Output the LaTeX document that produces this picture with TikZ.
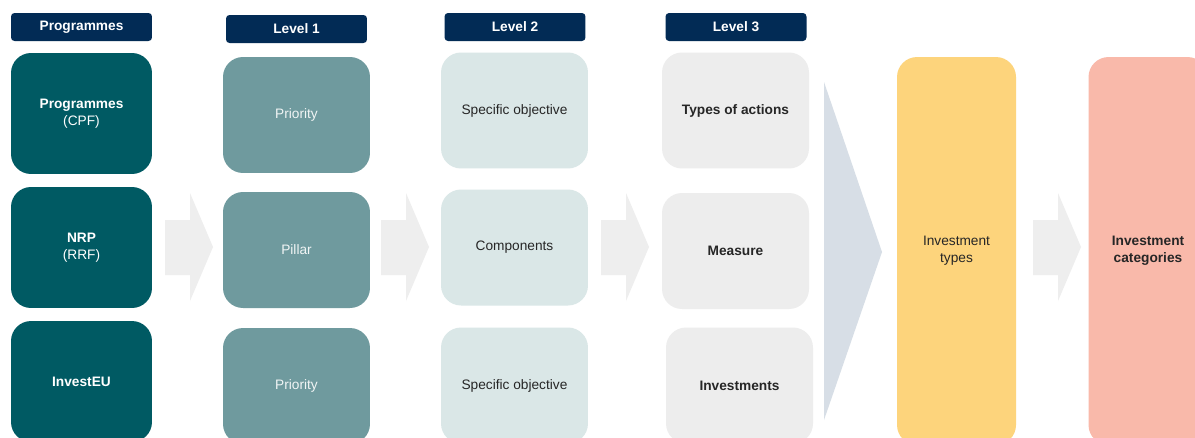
\documentclass[tikz,border=0pt]{standalone}
\usepackage{fontspec}
\setmainfont{Liberation Sans}
\definecolor{navy}{HTML}{022B55}
\definecolor{tealdark}{HTML}{005A63}
\definecolor{tealmid}{HTML}{6F9A9E}
\definecolor{teallight}{HTML}{DAE7E7}
\definecolor{greylight}{HTML}{EDEDED}
\definecolor{arrowgrey}{HTML}{EEEEEE}
\definecolor{funnel}{HTML}{D7DEE6}
\definecolor{invyellow}{HTML}{FDD47C}
\definecolor{invsalmon}{HTML}{F9B9AA}
\tikzset{
  txt/.style={font=\fontsize{7.8}{9.6}\selectfont, align=center},
  header/.style={txt, fill=navy, text=white, font=\fontsize{7.8}{9.6}\selectfont\bfseries,
    rounded corners=2pt, minimum width=2.82cm, minimum height=0.56cm},
  box/.style={txt, rounded corners=0.4cm, minimum width=2.94cm, minimum height=2.32cm},
  progbox/.style={box, fill=tealdark, text=white, minimum width=2.82cm, minimum height=2.42cm},
  pillarbox/.style={box, fill=tealmid, text=white!90!tealmid},
  objbox/.style={box, fill=teallight, text=black!85},
  actbox/.style={box, fill=greylight, text=black!85, font=\fontsize{7.8}{9.6}\selectfont\bfseries},
  tallbox/.style={txt, rounded corners=0.4cm, minimum width=2.38cm, minimum height=7.76cm, text=black!85},
  blockarrow/.style={fill=arrowgrey}
}
\begin{document}
\begin{tikzpicture}[x=0.02cm, y=-0.02cm]
  \clip (0,0) rectangle (1195,437);
  \fill[white] (0,0) rectangle (1195,437);

  % headers
  \node[header] (hprog) at (81.5, 27) {Programmes};
  \node[header] (hlev1) at (296.5, 29) {Level 1};
  \node[header] (hlev2) at (515, 27) {Level 2};
  \node[header] (hlev3) at (736, 27) {Level 3};

  % programmes
  \node[progbox] (prog) at (81.5, 113.5) {\textbf{Programmes}\\(CPF)};
  \node[progbox] (nrp) at (81.5, 247.5) {\textbf{NRP}\\(RRF)};
  \node[progbox] (invest) at (81.5, 381.5) {\textbf{InvestEU}};

  % level 1
  \node[pillarbox] (prio1) at (296.5, 115) {Priority};
  \node[pillarbox] (pillar) at (296.5, 250) {Pillar};
  \node[pillarbox] (prio2) at (296.5, 386) {Priority};

  % level 2
  \node[objbox] (obj1) at (514.5, 110.5) {Specific objective};
  \node[objbox] (comp) at (514.5, 247.5) {Components};
  \node[objbox] (obj2) at (514.5, 385.5) {Specific objective};

  % level 3
  \node[actbox] (types) at (735.5, 110.5) {Types of actions};
  \node[actbox] (measure) at (735.5, 251) {Measure};
  \node[actbox] (invs) at (739.5, 385.5) {Investments};

  % block arrows
  \foreach \dx in {0, 216, 436, 868} {
    \fill[blockarrow] (165+\dx, 220) -- (190+\dx, 220) -- (190+\dx, 193)
      -- (213+\dx, 247) -- (190+\dx, 301) -- (190+\dx, 275) -- (165+\dx, 275) -- cycle;
  }
  \fill[funnel] (824, 82) -- (882, 252) -- (824, 420) -- cycle;

  % results
  \node[tallbox, fill=invyellow] (itypes) at (956.5, 251) {Investment\\types};
  \node[tallbox, fill=invsalmon, font=\fontsize{7.8}{9.6}\selectfont\bfseries] (icats) at (1148, 251) {Investment\\categories};
\end{tikzpicture}
\end{document}
